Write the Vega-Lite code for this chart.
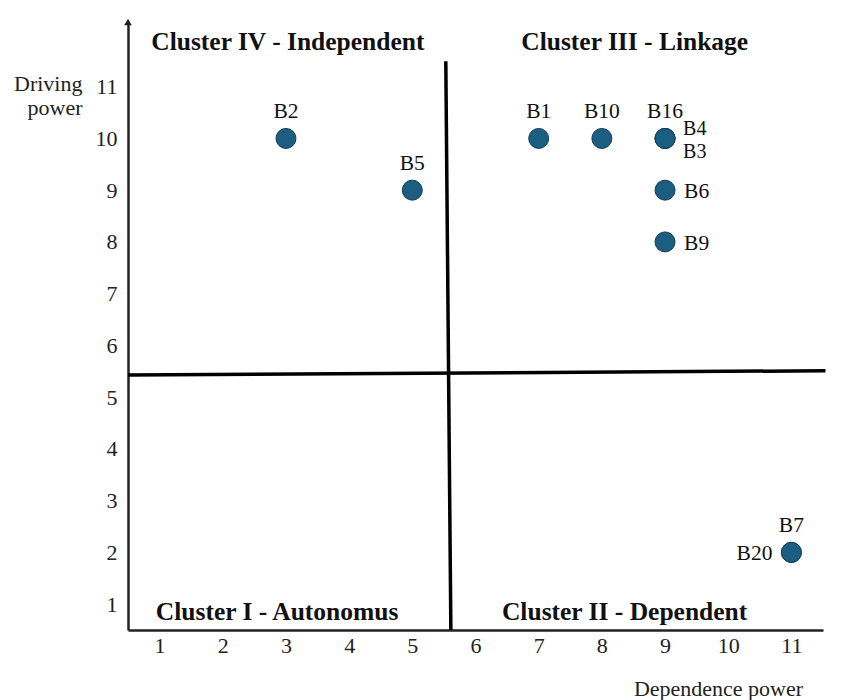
{
  "$schema": "https://vega.github.io/schema/vega-lite/v6.json",
  "width": 695,
  "height": 608,
  "autosize": {"type": "none"},
  "padding": {"left": 128, "top": 22, "right": 23, "bottom": 70},
  "background": "white",
  "config": {
    "view": {"stroke": null},
    "font": "Liberation Serif",
    "text": {"font": "Liberation Serif"}
  },
  "datasets": {
    "pts": [
      {"code": "B2", "dep": 3, "drv": 10},
      {"code": "B5", "dep": 5, "drv": 9},
      {"code": "B1", "dep": 7, "drv": 10},
      {"code": "B10", "dep": 8, "drv": 10},
      {"code": "B16", "dep": 9, "drv": 10},
      {"code": "B4", "dep": 9, "drv": 10},
      {"code": "B3", "dep": 9, "drv": 10},
      {"code": "B6", "dep": 9, "drv": 9},
      {"code": "B9", "dep": 9, "drv": 8},
      {"code": "B7", "dep": 11, "drv": 2},
      {"code": "B20", "dep": 11, "drv": 2}
    ],
    "lines": [
      {"x": 5.53, "y": 11.49, "x2": 5.61, "y2": 0.5},
      {"x": 0.5, "y": 5.43, "x2": 11.54, "y2": 5.51}
    ],
    "clusters": [
      {"name": "Cluster IV - Independent", "cx": 3.03, "cy": 11.87},
      {"name": "Cluster III - Linkage", "cx": 8.52, "cy": 11.87},
      {"name": "Cluster I - Autonomus", "cx": 2.86, "cy": 0.85},
      {"name": "Cluster II - Dependent", "cx": 8.36, "cy": 0.85}
    ],
    "arrow": [{"ax": 0.5, "ay": 12.25}]
  },
  "layer": [
    {
      "data": {"name": "lines"},
      "mark": {"type": "rule", "strokeWidth": 3.5, "color": "black"},
      "encoding": {
        "x": {"field": "x", "type": "quantitative", "scale": {"domain": [0.5, 11.5], "nice": false, "zero": false},
          "axis": {"values": [1,2,3,4,5,6,7,8,9,10,11], "format": "d", "ticks": false, "grid": false, "domainColor": "#222", "domainWidth": 2.5,
            "labelFont": "Liberation Serif", "labelFontSize": 22, "labelColor": "#222", "labelPadding": 5,
            "title": "Dependence power", "titleFont": "Liberation Serif", "titleFontSize": 22, "titleFontWeight": "normal", "titleColor": "#222",
            "titleX": 590, "titleY": 58, "titleAnchor": null, "titleAlign": "center", "titleBaseline": "middle"}},
        "y": {"field": "y", "type": "quantitative", "scale": {"domain": [0.5, 12.25], "nice": false, "zero": false},
          "axis": {"values": [1,2,3,4,5,6,7,8,9,10,11], "format": "d", "ticks": false, "grid": false, "domainColor": "#222", "domainWidth": 2.5,
            "labelFont": "Liberation Serif", "labelFontSize": 22, "labelColor": "#222", "labelPadding": 11,
            "title": ["Driving", "power"], "titleFont": "Liberation Serif", "titleFontSize": 22, "titleFontWeight": "normal", "titleColor": "#222",
            "titleAngle": 0, "titleX": -46, "titleY": 51, "titleAlign": "right", "titleBaseline": "top", "titleLineHeight": 24}},
        "x2": {"field": "x2"},
        "y2": {"field": "y2"}
      }
    },
    {
      "data": {"name": "arrow"},
      "mark": {"type": "point", "shape": "triangle-up", "filled": true, "color": "#222", "size": 60, "opacity": 1, "clip": false},
      "encoding": {
        "x": {"field": "ax", "type": "quantitative"},
        "y": {"field": "ay", "type": "quantitative"}
      }
    },
    {
      "data": {"name": "pts"},
      "mark": {"type": "circle", "size": 400, "color": "#1b5e82", "stroke": "#123f58", "strokeWidth": 1, "opacity": 1},
      "encoding": {
        "x": {"field": "dep", "type": "quantitative"},
        "y": {"field": "drv", "type": "quantitative"}
      }
    },
    {
      "data": {"name": "pts"},
      "transform": [{"filter": {"field": "code", "oneOf": ["B2", "B5", "B1", "B10", "B16", "B7"]}}],
      "mark": {"type": "text", "fontSize": 21.5, "color": "#111", "baseline": "middle", "align": "center", "dy": -26},
      "encoding": {
        "x": {"field": "dep", "type": "quantitative"},
        "y": {"field": "drv", "type": "quantitative"},
        "text": {"field": "code"}
      }
    },
    {
      "data": {"name": "pts"},
      "transform": [{"filter": {"field": "code", "equal": "B4"}}],
      "mark": {"type": "text", "fontSize": 20, "color": "#111", "baseline": "middle", "align": "left", "dx": 18, "dy": -9},
      "encoding": {
        "x": {"field": "dep", "type": "quantitative"},
        "y": {"field": "drv", "type": "quantitative"},
        "text": {"field": "code"}
      }
    },
    {
      "data": {"name": "pts"},
      "transform": [{"filter": {"field": "code", "equal": "B3"}}],
      "mark": {"type": "text", "fontSize": 20, "color": "#111", "baseline": "middle", "align": "left", "dx": 18, "dy": 14},
      "encoding": {
        "x": {"field": "dep", "type": "quantitative"},
        "y": {"field": "drv", "type": "quantitative"},
        "text": {"field": "code"}
      }
    },
    {
      "data": {"name": "pts"},
      "transform": [{"filter": {"field": "code", "oneOf": ["B6", "B9"]}}],
      "mark": {"type": "text", "fontSize": 21.5, "color": "#111", "baseline": "middle", "align": "left", "dx": 19, "dy": 2},
      "encoding": {
        "x": {"field": "dep", "type": "quantitative"},
        "y": {"field": "drv", "type": "quantitative"},
        "text": {"field": "code"}
      }
    },
    {
      "data": {"name": "pts"},
      "transform": [{"filter": {"field": "code", "equal": "B20"}}],
      "mark": {"type": "text", "fontSize": 21.5, "color": "#111", "baseline": "middle", "align": "right", "dx": -19, "dy": 2},
      "encoding": {
        "x": {"field": "dep", "type": "quantitative"},
        "y": {"field": "drv", "type": "quantitative"},
        "text": {"field": "code"}
      }
    },
    {
      "data": {"name": "clusters"},
      "mark": {"type": "text", "fontSize": 25.5, "fontWeight": "bold", "color": "#111", "baseline": "middle", "align": "center"},
      "encoding": {
        "x": {"field": "cx", "type": "quantitative"},
        "y": {"field": "cy", "type": "quantitative"},
        "text": {"field": "name"}
      }
    }
  ]
}
